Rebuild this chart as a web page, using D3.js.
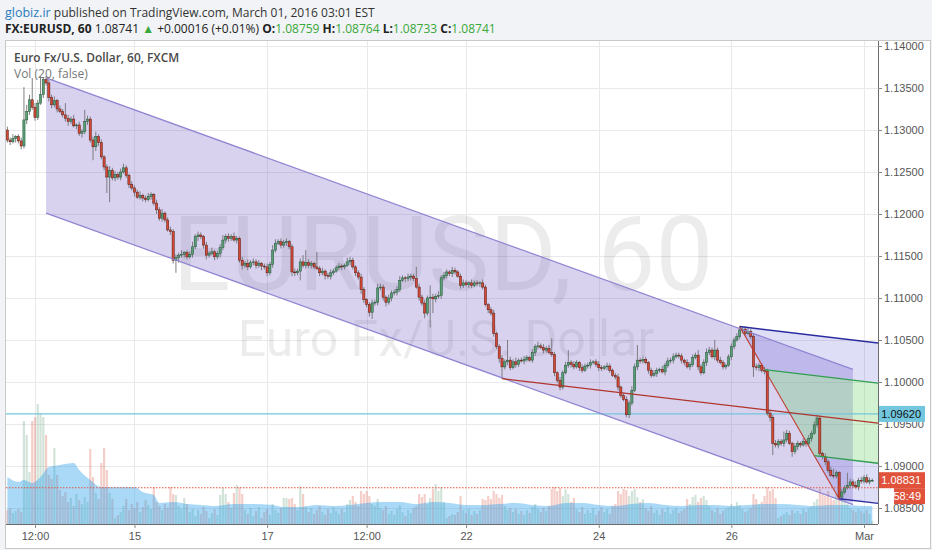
<!DOCTYPE html>
<html><head><meta charset="utf-8">
<script src="https://cdn.jsdelivr.net/npm/d3@7"></script>
<style>
body{margin:0;background:#f1f3f6;}
svg{display:block;}
</style></head><body>
<svg id="c" width="932" height="550"></svg>
<script>
// ---------------- DATA ----------------
// hourly EURUSD closes (in pips, x10000), bar 0 = Feb 11 02:00 EST
const firstOpen = 11300;
const closes = [
11288,11286,11290,11292,11287,11281,11312,11322,11336,11327,
11315,11332,11342,11360,11356,11339,11330,11335,11325,11322,
11318,11314,11310,11313,11305,11306,11296,11298,11310,11313,
11288,11280,11292,11285,11268,11256,11244,11252,11243,11247,
11244,11250,11255,11246,11235,11231,11226,11220,11222,11219,
11217,11221,11223,11213,11205,11195,11201,11193,11181,11179,
11145,11148,11151,11152,11154,11149,11152,11161,11173,11175,
11173,11163,11151,11153,11155,11149,11153,11160,11169,11173,
11171,11173,11169,11171,11145,11139,11141,11137,11142,11143,
11139,11141,11138,11137,11130,11140,11157,11165,11167,11163,
11166,11167,11161,11131,11130,11132,11143,11139,11142,11139,
11141,11137,11135,11130,11132,11127,11126,11130,11132,11136,
11138,11137,11139,11143,11145,11137,11130,11125,11110,11098,
11092,11083,11094,11095,11112,11113,11101,11095,11100,11106,
11107,11110,11121,11124,11123,11125,11126,11123,11113,11101,
11094,11082,11100,11101,11099,11102,11103,11124,11127,11131,
11129,11133,11131,11126,11115,11118,11116,11118,11115,11118,
11117,11118,11113,11092,11086,11082,11058,11042,11028,11018,
11024,11026,11017,11024,11021,11026,11025,11027,11029,11026,
11035,11042,11043,11041,11038,11040,11035,11033,11011,11002,
10994,11011,11020,11023,11021,11018,11023,11017,11014,11019,
11020,11023,11024,11021,11017,11016,11018,11019,11014,11008,
11006,10994,10984,10979,10961,10975,10990,11018,11026,11025,
11027,11023,11014,11008,11010,11014,11015,11012,11020,11025,
11026,11030,11032,11031,11026,11023,11018,11021,11029,11032,
11018,11011,11023,11035,11038,11030,11038,11026,11023,11018,
11020,11030,11042,11050,11054,11062,11063,11058,11060,11054,
11018,11017,11020,11014,11013,10963,10958,10927,10925,10929,
10927,10931,10939,10927,10917,10923,10927,10925,10929,10927,
10933,10939,10949,10957,10915,10911,10905,10895,10889,10888,
10892,10863,10869,10874,10877,10881,10877,10875,10883,10882,
10886,10881,10883,10883];
// wick lengths above / below the body (pips)
const upperWick = [
4,3,5,2,3,4,39,8,6,26, 5,4,22,3,4,4,3,5,2,4, 3,14,4,3,5,2,4,3,14,4, 3,4,6,3,4,2,3,5,3,4,
3,4,5,3,2,4,3,3,5,2, 3,4,3,2,4,3,5,2,3,4, 3,4,3,5,2,3,4,6,3,4, 3,2,4,3,5,2,3,4,6,3,
4,3,5,3,2,4,3,5,3,4, 3,4,2,3,4,3,6,5,3,4, 3,4,2,3,4,3,4,8,15,4, 3,2,18,3,4,2,3,4,3,3,
4,3,2,5,4,3,2,3,4,3, 2,3,4,3,5,4,3,2,4,3, 3,4,5,3,2,4,3,3,14,4, 3,4,3,14,4,3,5,3,4,3,
2,4,3,2,3,4,3,2,4,3, 3,2,4,3,2,3,4,2,3,4, 3,24,4,3,5,2,3,4,3,2, 4,3,5,3,4,3,4,17,3,2,
4,3,4,15,3,4,3,2,4,3, 3,4,2,3,4,3,2,4,3,2, 3,4,2,3,4,3,5,4,18,3, 4,3,2,3,4,3,2,4,3,4,
3,4,3,3,3,2,4,3,4,3, 6,3,4,5,4,3,12,3,4,3, 2,3,4,3,4,4,3,3,4,3, 3,4,3,2,4,3,4,3,4,3,
3,10,4,3,2,4,3,2,4,3, 4,3,4,4,3,2,4,3,4,8, 3,2,4,3,15,4,3,5,3,4, 3,4,3,2];
const lowerWick = [
3,4,2,5,3,4,3,5,4,3, 4,3,2,4,3,5,4,3,4,2, 3,4,5,3,2,4,3,5,3,4, 3,16,5,4,3,4,19,30,3,4,
3,4,2,3,4,3,5,2,3,4, 3,2,4,3,5,3,4,3,2,4, 4,15,6,3,4,3,2,4,3,5, 3,4,5,3,2,4,3,5,3,4,
4,3,2,4,3,5,3,4,2,3, 4,3,5,3,4,3,4,3,2,4, 3,4,3,5,4,3,11,3,4,3, 4,3,2,4,3,5,3,4,3,2,
3,4,3,2,4,3,4,3,5,4, 3,5,8,3,4,3,4,5,3,4, 3,4,3,2,4,3,4,3,2,4, 3,6,3,35,17,4,3,4,3,4,
3,4,3,2,4,3,2,4,3,2, 3,4,3,2,4,3,4,3,5,14, 3,4,3,2,4,3,2,4,3,2, 3,4,3,2,4,3,2,3,4,3,
4,3,2,3,4,3,2,4,3,2, 3,4,2,3,4,3,2,4,3,2, 3,4,3,2,3,4,3,2,4,3, 3,2,4,3,2,4,3,2,4,3,
3,4,2,3,4,3,2,4,3,2, 4,3,2,4,3,2,4,3,2,3, 3,2,4,3,2,3,4,3,2,3, 12,3,4,3,4,3,5,14,3,4,
3,4,3,2,6,3,4,3,2,4, 3,4,2,3,4,3,4,3,2,3, 3,2,4,3,2,4,3,2,4,3, 3,2,3,2];
// volume per bar (hundreds of lots)
const volume = [
14,16,11,13,15,12,103,89,52,103, 107,120,111,107,89,49,45,76,49,34, 28,32,22,26,18,30,24,20,27,22,
75,47,31,25,61,76,54,31,25,6, 9,12,18,25,14,20,16,22,12,17, 24,19,15,37,22,18,14,20,16,37,
30,29,18,15,26,20,12,15,8,14, 10,17,13,6,11,15,9,29,36,30, 22,16,31,39,37,30,14,10,16,8,
13,17,6,12,15,9,20,14,11,16, 26,26,25,26,20,14,38,30,18,12, 16,10,14,18,12,9,15,11,17,13,
10,15,12,20,24,28,22,18,33,30, 33,28,20,18,25,16,14,18,10,13, 9,15,19,12,8,14,11,16,18,30,
27,30,20,26,35,40,33,37,22,6, 8,10,9,12,28,14,11,15,9,13, 10,14,25,24,28,25,33,30,26,29,
18,14,16,12,15,10,13,9,14,11, 17,20,15,12,16,13,18,35,37,33, 36,28,35,30,22,26,15,12,17,10,
14,11,16,9,13,17,12,15,10,18, 20,33,30,35,34,28,33,35,27,22, 25,16,13,18,11,14,9,15,12,17,
10,14,16,11,13,15,25,20,27,29, 22,26,28,24,18,14,12,16,10,13, 15,17,20,18,22,19,15,12,14,16,
30,25,20,22,28,37,33,35,26,6, 8,10,12,9,14,11,13,10,15,12, 16,18,22,25,35,30,28,33,26,24,
30,35,28,25,20,16,14,12,15,13, 11,14,10,3];
// Volume MA(20)
const volMaIdx = [0,4,6,9,12,15,19,24,26,30,34,40,46,49,53,55,60,65,70,75,82,89,96,100,106,112,118,124,130,136,142,148,154,160,166,172,178,184,190,196,202,208,214,220,226,232,238,244,250,256,262,268,274,280,286,292,298,304,310,313];
const volMaVal = [47,42,44,41,47,57,59,61,54,44,37,37,37,32,29,21,22,20,19,18,20,20,19,17,17,19,18,19,21,22,22,20,22,21,19,19,20,21,19,18,21,21,19,18,20,21,19,18,19,19,18,19,20,20,19,18,19,19,18,18];
// axes
const timeTickIdx = [10,46,94,130,166,214,262,310];
const timeTickLabels = ["12:00","15","17","12:00","22","24","26","Mar"];
const priceTicks = [1.14,1.135,1.13,1.125,1.12,1.115,1.11,1.105,1.10,1.095,1.09,1.085];
// drawings (bar index, price)
const channelTop = [[14,1.1362],[306,1.1015]];
const channelWidth = 0.0161;
const pitchfork = [[179,1.1004],[265,1.1066],[301,1.0861]];
const hLinePrice = 1.09620;
const lastPrice = 1.08741;
const labelPrice = 1.08831;
const countdown = "58:49";

// ---------------- LAYOUT ----------------
const L=6, R=878, T=41, B=524;
const svg = d3.select("#c");
const x = d3.scaleLinear().domain([10,310]).range([35,864]);
const y = d3.scaleLinear().domain([1.085,1.14]).range([508,46]);
const vY = d3.scaleLinear().domain([0,120]).range([B,404]);

// header
svg.append("rect").attr("x",0).attr("y",0).attr("width",932).attr("height",550).attr("fill","#f1f3f6");
const h1 = svg.append("text").attr("x",5).attr("y",17).attr("font-family","Open Sans").attr("font-size",12);
h1.append("tspan").attr("fill","#2b7bbf").attr("font-size",12.5).text("globiz.ir");
h1.append("tspan").attr("fill","#333").text(" published on TradingView.com, March 01, 2016 03:01 EST");
const h2 = svg.append("text").attr("x",5).attr("y",33).attr("font-family","Open Sans").attr("font-size",12).attr("fill","#222");
const green = "#3aa83a";
[["FX:EURUSD, 60",null,700],[" 1.08741 ",null,400],["▲",green,400],[" +0.00016 (+0.01%) ",null,400],
 ["O:",null,700],["1.08759 ",green,400],["H:",null,700],["1.08764 ",green,400],
 ["L:",null,700],["1.08733 ",green,400],["C:",null,700],["1.08741",green,400]].forEach(d=>{
  const t=h2.append("tspan").attr("font-weight",d[2]).text(d[0]);
  if(d[1]) t.attr("fill",d[1]);
});

// chart box
svg.append("rect").attr("x",5.5).attr("y",40.5).attr("width",925).attr("height",508).attr("fill","#fff").attr("stroke","#c9c9c9");

svg.append("defs").append("clipPath").attr("id","plot").append("rect")
  .attr("x",L).attr("y",T).attr("width",R-L).attr("height",B-T);
const g = svg.append("g").attr("clip-path","url(#plot)");

// grid
g.selectAll(".hg").data(priceTicks).join("line").attr("x1",L).attr("x2",R)
  .attr("y1",d=>Math.round(y(d))+0.5).attr("y2",d=>Math.round(y(d))+0.5).attr("stroke","#e9e9e9");
g.selectAll(".vg").data(timeTickIdx).join("line").attr("y1",T).attr("y2",B)
  .attr("x1",d=>Math.round(x(d))+0.5).attr("x2",d=>Math.round(x(d))+0.5).attr("stroke","#e9e9e9");

// watermark
g.append("text").attr("x",443).attr("y",290).attr("text-anchor","middle").attr("font-family","Roboto")
  .attr("font-size",103).attr("fill","rgba(0,0,0,0.075)").text("EURUSD, 60");
g.append("text").attr("x",446).attr("y",356).attr("text-anchor","middle").attr("font-family","Roboto")
  .attr("font-size",50).attr("fill","rgba(0,0,0,0.075)").text("Euro Fx/U.S. Dollar");

// candle data
const bars = closes.map((c,i)=>{
  const o = i===0 ? firstOpen : closes[i-1];
  return {i, o:o/1e4, c:c/1e4, h:(Math.max(o,c)+upperWick[i])/1e4, l:(Math.min(o,c)-lowerWick[i])/1e4, v:volume[i]};
});

// volume bars
g.selectAll(".vb").data(bars).join("rect")
  .attr("x",d=>x(d.i)-1.1).attr("width",2.2)
  .attr("y",d=>vY(d.v)).attr("height",d=>B-vY(d.v))
  .attr("fill",d=>d.c>=d.o ? "rgba(107,165,131,0.3)" : "rgba(215,84,66,0.28)");
// volume MA area
const ma = volMaIdx.map((d,k)=>[d,volMaVal[k]]);
g.append("path").datum(ma)
  .attr("d",d3.area().x(d=>x(d[0])).y0(B).y1(d=>vY(d[1])).curve(d3.curveMonotoneX))
  .attr("fill","rgba(40,160,235,0.4)");

// channel
const cw = channelWidth;
const chPoly = [channelTop[0],channelTop[1],[channelTop[1][0],channelTop[1][1]-cw],[channelTop[0][0],channelTop[0][1]-cw]];
g.append("path").attr("d","M"+chPoly.map(p=>x(p[0])+","+y(p[1])).join("L")+"Z")
  .attr("fill","rgba(120,100,200,0.29)");

// pitchfork
const [P1,P2,P3] = pitchfork;
const M = [(P2[0]+P3[0])/2,(P2[1]+P3[1])/2];
const G1 = [(P2[0]+M[0])/2,(P2[1]+M[1])/2];
const G2 = [(M[0]+P3[0])/2,(M[1]+P3[1])/2];
const slope = (M[1]-P1[1])/(M[0]-P1[0]);
const xEnd = 330;
const ext = p=>[xEnd, p[1]+slope*(xEnd-p[0])];
const poly = pts=>"M"+pts.map(p=>x(p[0])+","+y(p[1])).join("L")+"Z";
g.append("path").attr("d",poly([P2,ext(P2),ext(G1),G1])).attr("fill","rgba(70,70,210,0.18)");
g.append("path").attr("d",poly([G1,ext(G1),ext(G2),G2])).attr("fill","rgba(70,200,70,0.25)");
g.append("path").attr("d",poly([G2,ext(G2),ext(P3),P3])).attr("fill","rgba(70,70,210,0.18)");

// horizontal line
g.append("line").attr("x1",L).attr("x2",R).attr("y1",y(hLinePrice)).attr("y2",y(hLinePrice))
  .attr("stroke","#74c6dc").attr("stroke-width",1.2);

// candles
const cg = g.append("g");
cg.selectAll(".wk").data(bars).join("line")
  .attr("x1",d=>x(d.i)).attr("x2",d=>x(d.i)).attr("y1",d=>y(d.h)).attr("y2",d=>y(d.l))
  .attr("stroke","#737375").attr("stroke-width",0.9);
cg.selectAll(".bd").data(bars).join("rect")
  .attr("x",d=>x(d.i)-1.1).attr("width",2.2)
  .attr("y",d=>y(Math.max(d.o,d.c))).attr("height",d=>Math.max(0.8,Math.abs(y(d.o)-y(d.c))))
  .attr("fill",d=>d.c>=d.o ? "#5a9e76" : "#d24a36")
  .attr("stroke",d=>d.c>=d.o ? "#225437" : "#5b1a13").attr("stroke-width",0.5);

// channel lines
[0,cw].forEach(off=>{
  g.append("line").attr("x1",x(channelTop[0][0])).attr("y1",y(channelTop[0][1]-off))
    .attr("x2",x(channelTop[1][0])).attr("y2",y(channelTop[1][1]-off))
    .attr("stroke","#8f84d2").attr("stroke-width",1.2);
});
// pitchfork lines
const seg = (a,b,col,w)=>g.append("line").attr("x1",x(a[0])).attr("y1",y(a[1])).attr("x2",x(b[0])).attr("y2",y(b[1])).attr("stroke",col).attr("stroke-width",w);
seg(P2,P3,"#c0392b",1.1);
seg(P1,ext(P1),"#b0352b",1.4);
seg(P2,ext(P2),"#2b2ba0",1.4);
seg(P3,ext(P3),"#2b2ba0",1.4);
seg(G1,ext(G1),"#2f9e4f",1.3);
seg(G2,ext(G2),"#2f9e4f",1.3);

// last price dotted line
g.append("line").attr("x1",L).attr("x2",R).attr("y1",y(lastPrice)).attr("y2",y(lastPrice))
  .attr("stroke","#e0533c").attr("stroke-width",1).attr("stroke-dasharray","1.5,1.5");

// legend texts
svg.append("text").attr("x",14).attr("y",62).attr("font-family","Open Sans").attr("font-size",11.9)
  .attr("font-weight",600).attr("fill","#4a4a4a").text("Euro Fx/U.S. Dollar, 60, FXCM");
svg.append("text").attr("x",14).attr("y",78).attr("font-family","Open Sans").attr("font-size",12)
  .attr("fill","#777").text("Vol (20, false)");

// axes lines
svg.append("line").attr("x1",R+0.5).attr("x2",R+0.5).attr("y1",T).attr("y2",B).attr("stroke","#6b6b6b");
svg.append("line").attr("x1",L).attr("x2",R).attr("y1",B+0.5).attr("y2",B+0.5).attr("stroke","#6b6b6b");

// price axis
const yAxis = d3.axisRight(y).tickValues(priceTicks).tickFormat(d3.format(".5f")).tickSize(4).tickPadding(2);
const ya = svg.append("g").attr("transform",`translate(${R},0)`).call(yAxis);
ya.select(".domain").remove();
ya.selectAll("text").attr("font-family","Liberation Sans").attr("font-size",11).attr("fill","#555");
ya.selectAll("line").attr("stroke","#888");

// time axis
const xAxis = d3.axisBottom(x).tickValues(timeTickIdx).tickFormat((d,k)=>timeTickLabels[k]).tickSize(4).tickPadding(4);
const xa = svg.append("g").attr("transform",`translate(0,${B})`).call(xAxis);
xa.select(".domain").remove();
xa.selectAll("text").attr("font-family","Liberation Sans").attr("font-size",11).attr("fill","#555");
xa.selectAll("line").attr("stroke","#888");

// price labels
const lab = (price,txt,bg,fg,x0,w)=>{
  const yy = y(price);
  svg.append("rect").attr("x",x0).attr("y",yy-8).attr("width",w).attr("height",16).attr("fill",bg);
  svg.append("text").attr("x",x0+w-4).attr("y",yy+4).attr("text-anchor","end").attr("font-family","Liberation Sans")
    .attr("font-size",11).attr("fill",fg).text(txt);
};
lab(hLinePrice,d3.format(".5f")(hLinePrice),"#72c7df","#111",879,46);
lab(labelPrice,d3.format(".5f")(labelPrice),"#e0523b","#fff",879,46);
lab(labelPrice-0.0019,countdown,"#e0523b","#fff",894,31);
</script>
</body></html>
